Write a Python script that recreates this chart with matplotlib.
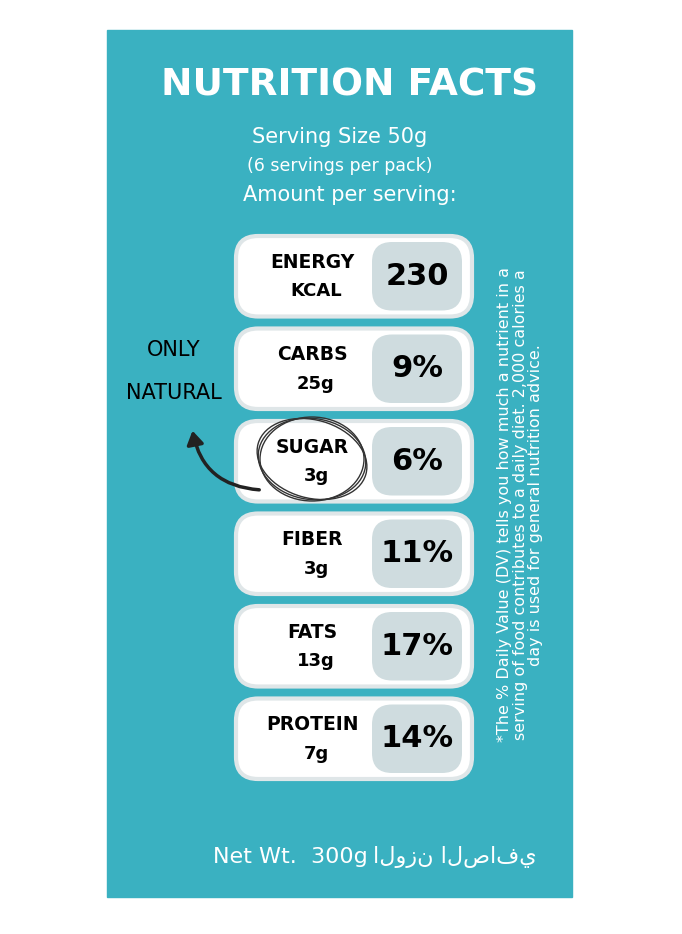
import matplotlib
matplotlib.use("Agg")
import matplotlib.pyplot as plt
from matplotlib.patches import FancyBboxPatch, Rectangle, Ellipse, FancyArrowPatch

# data
nutrients = ["ENERGY", "CARBS", "SUGAR", "FIBER", "FATS", "PROTEIN"]
amounts = ["KCAL", "25g", "3g", "3g", "13g", "7g"]
values = ["230", "9%", "6%", "11%", "17%", "14%"]

TEAL = "#3ab1c1"
PILL = "#cfdcdf"
FONT = "DejaVu Sans"

fig = plt.figure(figsize=(6.82, 9.34), dpi=100)
ax = fig.add_axes([0, 0, 1, 1])
ax.set_xlim(0, 682)
ax.set_ylim(934, 0)
ax.axis("off")

ax.add_patch(Rectangle((107, 30), 465, 867, color=TEAL))

ax.text(350, 85, "NUTRITION FACTS", ha="center", va="center", color="white",
        fontsize=27, fontweight="bold", family=FONT)
ax.text(340, 137, "Serving Size 50g", ha="center", va="center", color="white", fontsize=15)
ax.text(340, 166, "(6 servings per pack)", ha="center", va="center", color="white", fontsize=12.5)
ax.text(350, 195, "Amount per serving:", ha="center", va="center", color="white", fontsize=15)

top, step = 232, 92.5
for i, (n, a, v) in enumerate(zip(nutrients, amounts, values)):
    y0 = top + i * step
    ax.add_patch(FancyBboxPatch((236, y0 + 4), 236, step - 12,
                                boxstyle="round,pad=0,rounding_size=22",
                                fc="white", ec="#dfe6e8", lw=3))
    ax.add_patch(FancyBboxPatch((372, y0 + 10), 90, step - 24,
                                boxstyle="round,pad=0,rounding_size=20",
                                fc=PILL, ec="none"))
    cy = y0 + step / 2 - 2
    ax.text(312, cy - 14, n, ha="center", va="center", fontsize=13.5,
            fontweight="bold", family=FONT)
    ax.text(316, cy + 15, a, ha="center", va="center", fontsize=13,
            fontweight="bold", family=FONT)
    ax.text(417, cy, v, ha="center", va="center", fontsize=22,
            fontweight="bold", family=FONT)

# sketched circle around sugar
for k in range(3):
    ax.add_patch(Ellipse((312, 459), 104 + k * 4, 84 - k * 3, angle=8 * k,
                         fill=False, ec="#333333", lw=1))

ax.text(174, 350, "ONLY", ha="center", va="center", fontsize=15, family=FONT)
ax.text(174, 393, "NATURAL", ha="center", va="center", fontsize=15, family=FONT)
ax.add_patch(FancyArrowPatch((262, 490), (192, 428), connectionstyle="arc3,rad=-0.4",
                             arrowstyle="-|>,head_length=8,head_width=5",
                             color="#222222", lw=2.5))

note = ("*The % Daily Value (DV) tells you how much a nutrient in a\n"
        "serving of food contributes to a daily diet. 2,000 calories a\n"
        "day is used for general nutrition advice.")
ax.text(520, 505, note, ha="center", va="center", rotation=90, color="white",
        fontsize=11.5, linespacing=1.05)

ax.text(290, 857, "Net Wt.  300g", ha="center", va="center", color="white", fontsize=16)
ax.text(455, 857, "الوزن الصافي", ha="center", va="center", color="white", fontsize=16)

fig.savefig("out.png", dpi=100)
